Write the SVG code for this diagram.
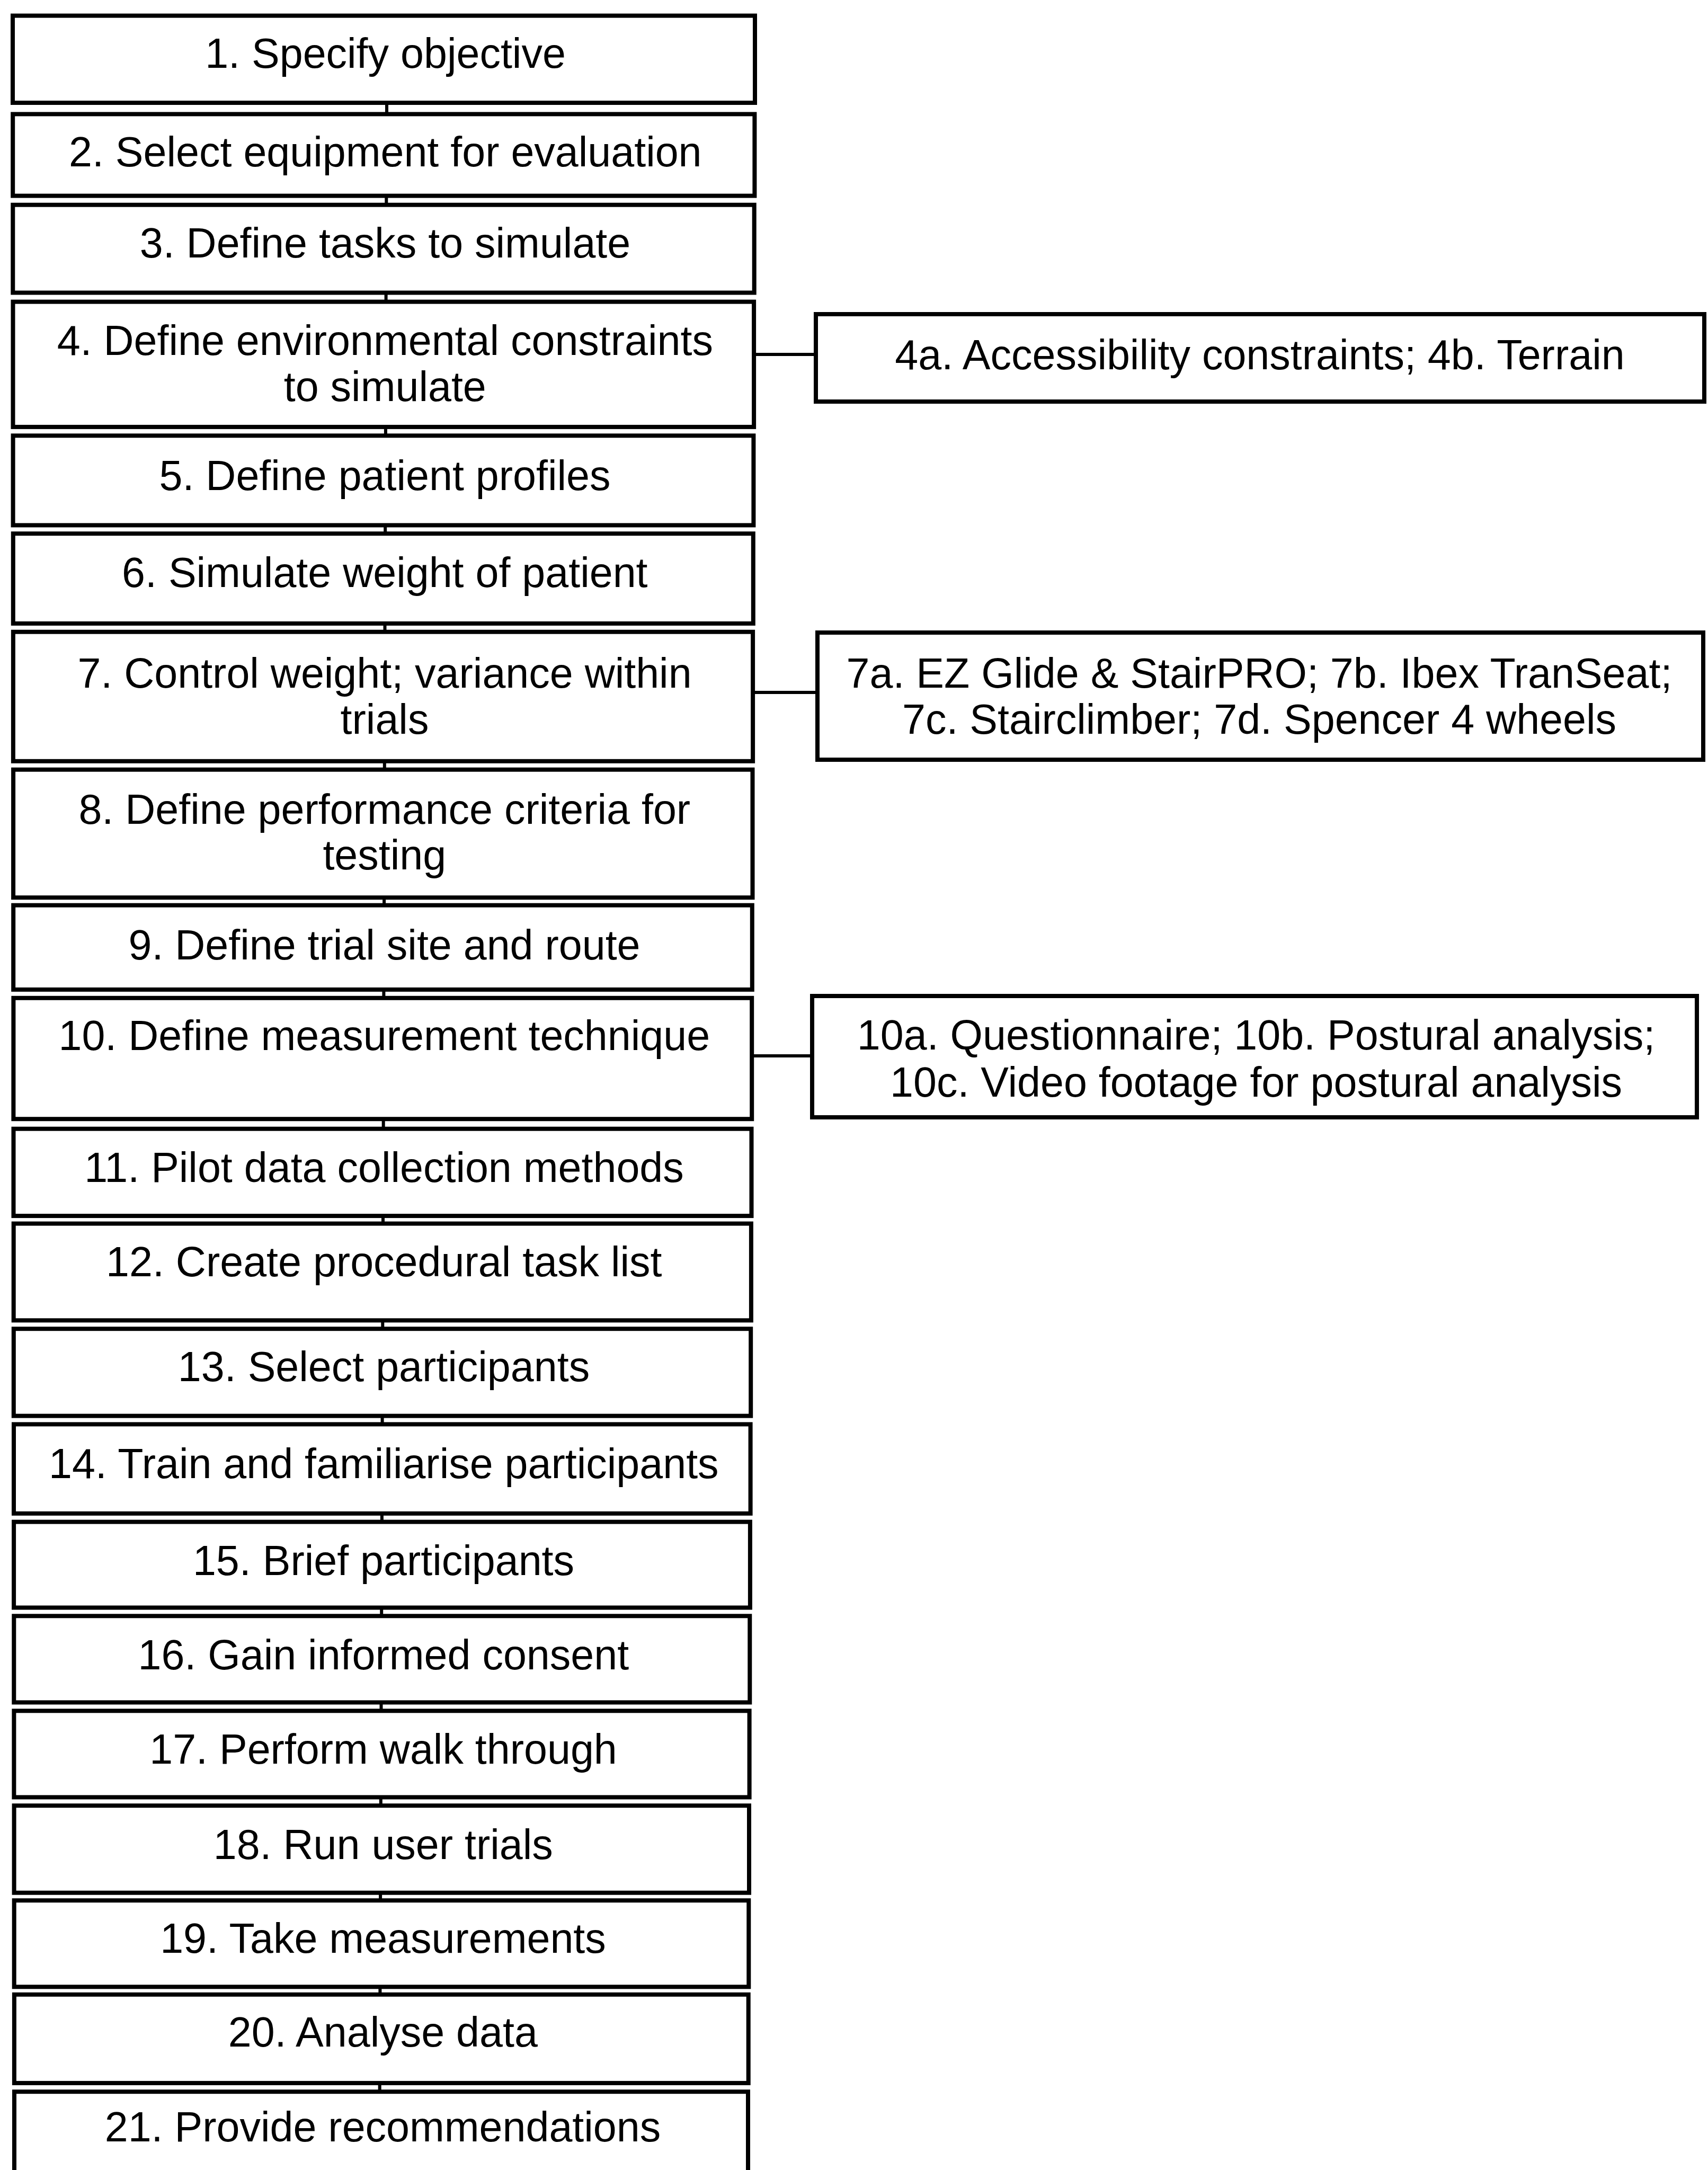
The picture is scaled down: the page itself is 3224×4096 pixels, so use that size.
<svg xmlns="http://www.w3.org/2000/svg" width="3224" height="4096" viewBox="0 0 3224 4096">
  <style>
    .box { fill: #fff; stroke: #000; stroke-width: 8; }
    .lbl { font-family: "Liberation Sans", Arial, sans-serif; font-size: 79px; fill: #000; text-anchor: middle; }
    .link { stroke: #000; stroke-width: 6; fill: none; }
  </style>
  <rect x="0" y="0" width="3224" height="4096" fill="#fff"/>

  <!-- connectors -->
  <g id="connectors">
    <line class="link" x1="730" y1="194" x2="730" y2="215"/>
    <line class="link" x1="729.3" y1="370" x2="729.3" y2="387"/>
    <line class="link" x1="728.6" y1="552" x2="728.6" y2="570"/>
    <line class="link" x1="727.9" y1="806" x2="727.9" y2="822"/>
    <line class="link" x1="727.2" y1="991" x2="727.2" y2="1007"/>
    <line class="link" x1="726.5" y1="1177" x2="726.5" y2="1193"/>
    <line class="link" x1="725.8" y1="1437" x2="725.8" y2="1453"/>
    <line class="link" x1="725.1" y1="1694" x2="725.1" y2="1709"/>
    <line class="link" x1="724.4" y1="1868" x2="724.4" y2="1884"/>
    <line class="link" x1="723.7" y1="2112" x2="723.7" y2="2131"/>
    <line class="link" x1="723" y1="2295" x2="723" y2="2310"/>
    <line class="link" x1="722.3" y1="2492" x2="722.3" y2="2508"/>
    <line class="link" x1="721.6" y1="2673" x2="721.6" y2="2688"/>
    <line class="link" x1="720.9" y1="2857" x2="720.9" y2="2873"/>
    <line class="link" x1="720.2" y1="3035" x2="720.2" y2="3050"/>
    <line class="link" x1="719.5" y1="3213" x2="719.5" y2="3229"/>
    <line class="link" x1="718.8" y1="3392" x2="718.8" y2="3408"/>
    <line class="link" x1="718.1" y1="3573" x2="718.1" y2="3587"/>
    <line class="link" x1="717.4" y1="3750" x2="717.4" y2="3765"/>
    <line class="link" x1="716.7" y1="3932" x2="716.7" y2="3948"/>
    <line class="link" x1="1427" y1="669" x2="1540" y2="669"/>
    <line class="link" x1="1425" y1="1307" x2="1543" y2="1307"/>
    <line class="link" x1="1423" y1="1993" x2="1533" y2="1993"/>
  </g>

  <!-- main sequence -->
  <g id="n1"><rect class="box" x="24" y="29.6" width="1401" height="164.4"/><text class="lbl" x="727.5" y="128">1. Specify objective</text></g>
  <g id="n2"><rect class="box" x="24.2" y="215.4" width="1400.2" height="154.2"/><text class="lbl" x="727.3" y="313.5">2. Select equipment for evaluation</text></g>
  <g id="n3"><rect class="box" x="24.3" y="386.7" width="1399.4" height="165.8"/><text class="lbl" x="727" y="486">3. Define tasks to simulate</text></g>
  <g id="n4"><rect class="box" x="24.5" y="569.6" width="1398.6" height="236.3"/><text class="lbl" x="726.8" y="670">4. Define environmental constraints</text><text class="lbl" x="726.8" y="757">to simulate</text></g>
  <g id="n5"><rect class="box" x="24.6" y="822.3" width="1397.8" height="169.1"/><text class="lbl" x="726.5" y="925">5. Define patient profiles</text></g>
  <g id="n6"><rect class="box" x="24.8" y="1007.2" width="1397" height="169.7"/><text class="lbl" x="726.3" y="1107.7">6. Simulate weight of patient</text></g>
  <g id="n7"><rect class="box" x="24.9" y="1192.7" width="1396.2" height="244.1"/><text class="lbl" x="726" y="1298">7. Control weight; variance within</text><text class="lbl" x="726" y="1385">trials</text></g>
  <g id="n8"><rect class="box" x="25.1" y="1452.7" width="1395.4" height="241.5"/><text class="lbl" x="725.8" y="1554.5">8. Define performance criteria for</text><text class="lbl" x="725.8" y="1641">testing</text></g>
  <g id="n9"><rect class="box" x="25.2" y="1708.7" width="1394.6" height="159.2"/><text class="lbl" x="725.5" y="1810.5">9. Define trial site and route</text></g>
  <g id="n10"><rect class="box" x="25.4" y="1883.8" width="1393.8" height="228.4"/><text class="lbl" x="725.3" y="1982">10. Define measurement technique</text></g>
  <g id="n11"><rect class="box" x="25.5" y="2130.7" width="1393" height="164.4"/><text class="lbl" x="725" y="2231">11. Pilot data collection methods</text></g>
  <g id="n12"><rect class="box" x="25.7" y="2309.6" width="1392.2" height="182.7"/><text class="lbl" x="724.8" y="2409">12. Create procedural task list</text></g>
  <g id="n13"><rect class="box" x="25.8" y="2508.2" width="1391.4" height="164.4"/><text class="lbl" x="724.5" y="2607">13. Select participants</text></g>
  <g id="n14"><rect class="box" x="26" y="2688.4" width="1390.6" height="168.4"/><text class="lbl" x="724.3" y="2790">14. Train and familiarise participants</text></g>
  <g id="n15"><rect class="box" x="26.1" y="2872.6" width="1389.8" height="161.9"/><text class="lbl" x="724" y="2973">15. Brief participants</text></g>
  <g id="n16"><rect class="box" x="26.3" y="3050.3" width="1389" height="163.1"/><text class="lbl" x="723.8" y="3151">16. Gain informed consent</text></g>
  <g id="n17"><rect class="box" x="26.4" y="3229.3" width="1388.2" height="163.1"/><text class="lbl" x="723.5" y="3328.5">17. Perform walk through</text></g>
  <g id="n18"><rect class="box" x="26.6" y="3408.2" width="1387.4" height="164.5"/><text class="lbl" x="723.3" y="3508.7">18. Run user trials</text></g>
  <g id="n19"><rect class="box" x="26.7" y="3587.2" width="1386.6" height="163.1"/><text class="lbl" x="723" y="3686.4">19. Take measurements</text></g>
  <g id="n20"><rect class="box" x="26.9" y="3764.8" width="1385.8" height="167.1"/><text class="lbl" x="722.8" y="3863">20. Analyse data</text></g>
  <g id="n21"><rect class="box" x="27" y="3948.2" width="1385" height="220"/><text class="lbl" x="722.5" y="4042">21. Provide recommendations</text></g>

  <!-- side detail boxes -->
  <g id="n4a"><rect class="box" x="1540" y="593" width="1677" height="165"/><text class="lbl" x="2378" y="697">4a. Accessibility constraints; 4b. Terrain</text></g>
  <g id="n7a"><rect class="box" x="1543" y="1194" width="1672" height="240"/><text class="lbl" x="2377" y="1297.5">7a. EZ Glide &amp; StairPRO; 7b. Ibex TranSeat;</text><text class="lbl" x="2377" y="1385">7c. Stairclimber; 7d. Spencer 4 wheels</text></g>
  <g id="n10a"><rect class="box" x="1533" y="1880" width="1670" height="229"/><text class="lbl" x="2371" y="1981">10a. Questionnaire; 10b. Postural analysis;</text><text class="lbl" x="2371" y="2070">10c. Video footage for postural analysis</text></g>
</svg>
